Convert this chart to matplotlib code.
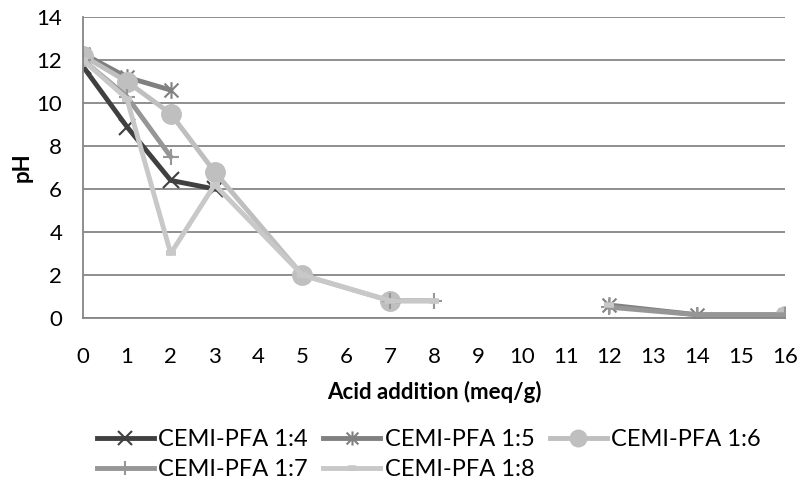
import numpy as np
import matplotlib
matplotlib.use('Agg')
import matplotlib.pyplot as plt
from matplotlib.path import Path

plt.rcParams['font.family'] = ['Lato', 'DejaVu Sans']

nan = np.nan
ticks = list(range(0, 17))

# acid addition (meq/g) and pH for each mix; nan breaks the line
x_14 = [0, 1, 2, 3]
ph_14 = [11.7, 8.9, 6.4, 6.0]

x_15 = [0, 1, 2, nan, 12, 14, 16]
ph_15 = [12.3, 11.2, 10.6, nan, 0.6, 0.15, 0.15]

x_16 = [0, 1, 2, 3, 5, 7, nan, 16]
ph_16 = [12.2, 11.0, 9.5, 6.8, 2.0, 0.8, nan, 0.1]

x_17 = [0, 1, 2, nan, 7, 8, nan, 12, 14, 16]
ph_17 = [12.0, 10.3, 7.5, nan, 0.8, 0.8, nan, 0.5, 0.15, 0.15]

x_18 = [0, 1, 2, 3, 5, 7, 8, nan, 12]
ph_18 = [12.0, 10.2, 3.0, 6.2, 2.0, 0.8, 0.8, nan, 0.6]

# star marker: an x with a vertical stroke through it
star = Path([(-1, -1), (1, 1), (-1, 1), (1, -1), (0, -1.2), (0, 1.2)],
            [Path.MOVETO, Path.LINETO] * 3)

fig = plt.figure(figsize=(8.01, 4.86), dpi=100)
ax = fig.add_axes([0.1036, 0.3457, 0.8764, 0.6193])

lw = 3.5
l14, = ax.plot(x_14, ph_14, color='#404040', lw=lw, marker='x', ms=12, mew=1.5,
               label='CEMI-PFA 1:4')
l15, = ax.plot(x_15, ph_15, color='#808080', lw=lw, marker=star, ms=12, mew=1.5,
               label='CEMI-PFA 1:5')
l16, = ax.plot(x_16, ph_16, color='#bfbfbf', lw=lw, marker='o', ms=14,
               label='CEMI-PFA 1:6')
l17, = ax.plot(x_17, ph_17, color='#969696', lw=lw, marker='+', ms=12, mew=1.5,
               label='CEMI-PFA 1:7')
l18, = ax.plot(x_18, ph_18, color='#c8c8c8', lw=lw, marker='_', ms=7, mew=4,
               label='CEMI-PFA 1:8')

ax.set_xlim(0, 16)
ax.set_ylim(0, 14)
ax.set_xticks(ticks)
ax.set_yticks(range(0, 15, 2))
ax.tick_params(length=0, labelsize=16, colors='black')
ax.tick_params(axis='x', pad=21)
ax.tick_params(axis='y', pad=15)
ax.grid(axis='y', color='#868686', lw=1.3)
ax.set_axisbelow(True)
for side in ['top', 'right']:
    ax.spines[side].set_visible(False)
for side in ['left', 'bottom']:
    ax.spines[side].set_color('#868686')
    ax.spines[side].set_linewidth(1.3)

ax.set_xlabel('Acid addition (meq/g)', fontsize=16, fontweight='bold', labelpad=10)
ax.set_ylabel('pH', fontsize=16, fontweight='bold', labelpad=3)

# legend fills column-wise, so order handles to read 1:4 1:5 1:6 / 1:7 1:8
handles = [l14, l17, l15, l18, l16]
fig.legend(handles=handles, labels=[h.get_label() for h in handles],
           loc='upper left', bbox_to_anchor=(97 / 801, 1 - 429 / 486), ncol=3,
           frameon=False, fontsize=17, handlelength=2.4, handletextpad=0.2,
           columnspacing=0.65, labelspacing=0.4, borderpad=0, borderaxespad=0,
           markerscale=0.85)

fig.savefig('out.png', dpi=100)
